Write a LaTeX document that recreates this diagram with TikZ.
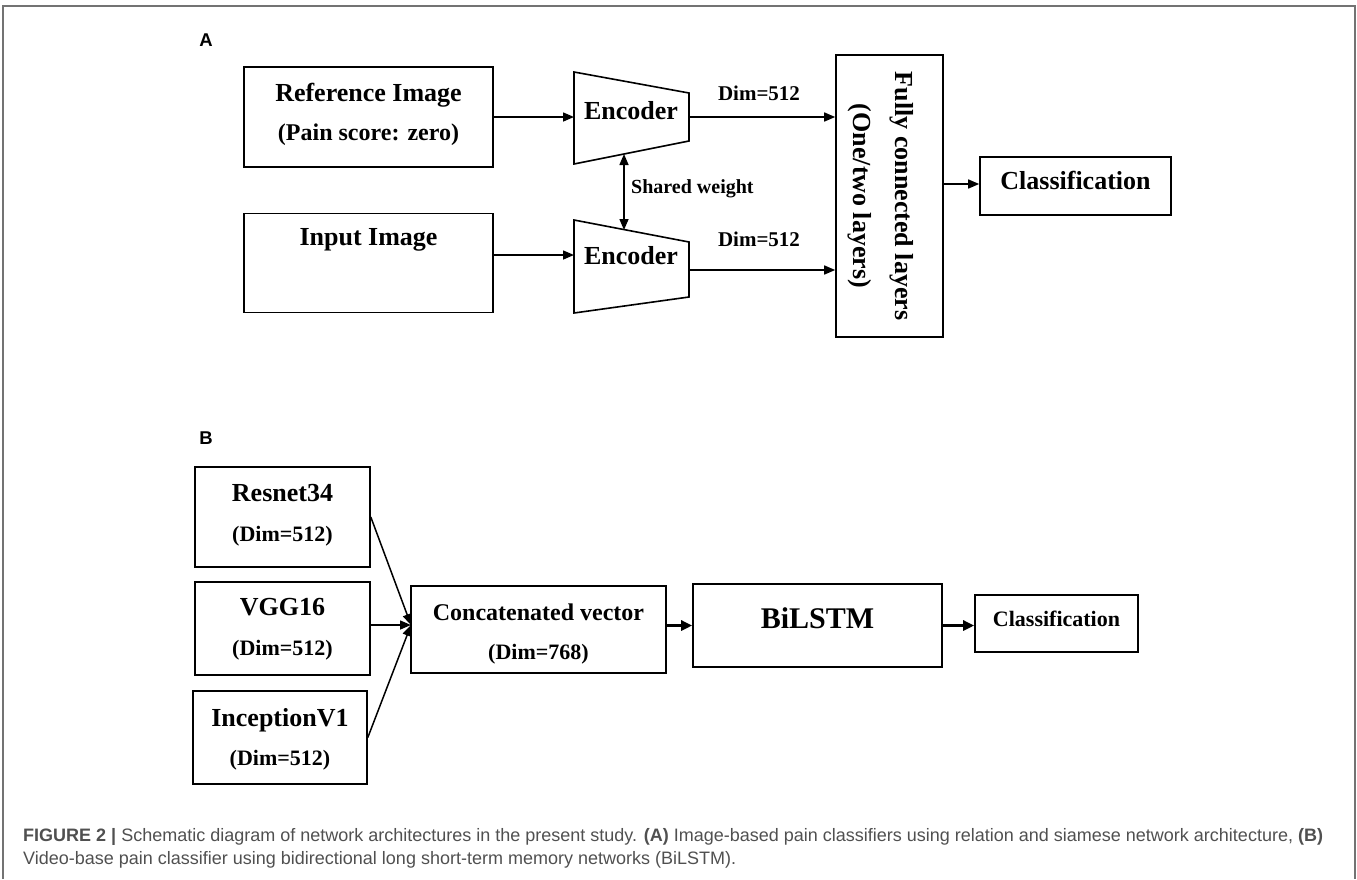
\documentclass[tikz,border=0pt]{standalone}
\usepackage{fontspec}
\setmainfont{Liberation Serif}
\newfontfamily\capfont{Liberation Sans}
\usetikzlibrary{arrows.meta,calc}
\definecolor{capgray}{RGB}{80,80,80}
\definecolor{framegray}{RGB}{115,115,115}
\newcommand\fsz[2]{\fontsize{#1}{#2}\selectfont\bfseries}
\tikzset{
  box/.style={draw,line width=1.6pt,inner sep=0pt},
  arr/.style={line width=1.5pt,-{Triangle[length=11pt,width=9pt]}},
  thickarr/.style={line width=2.6pt,-{Triangle[length=11pt,width=10pt]}},
  t26/.style={inner sep=0pt,anchor=mid,font=\fsz{26}{30}},
  t24/.style={inner sep=0pt,anchor=mid,font=\fsz{24}{28}},
  t22/.style={inner sep=0pt,anchor=mid,font=\fsz{22}{26}},
  t21/.style={inner sep=0pt,anchor=mid,font=\fsz{21}{25}},
  t20/.style={inner sep=0pt,anchor=mid,font=\fsz{20}{24}},
  t30/.style={inner sep=0pt,anchor=mid,font=\fsz{30}{34}},
  lab/.style={inner sep=0pt,font=\capfont\bfseries\fontsize{18.5}{22}\selectfont},
  captxt/.style={inner sep=0pt,text=capgray,font=\capfont\fontsize{18}{22}\selectfont},
  enc/.style={draw,line width=1.6pt,line join=miter},
}
\begin{document}
\begin{tikzpicture}[x=1pt,y=-1pt]
\useasboundingbox (0,0) rectangle (1357,879);
\draw[framegray,line width=2pt] (3,879) -- (3,6) -- (1355,6) -- (1355,879);

% ---------- Panel A ----------
\node[lab] (labA) at (206,40) {A};

\node[box,minimum width=249pt,minimum height=100pt] (ref) at (368.5,117) {};
\node[t26] (refT) at (368.5,99) {Reference Image};
\node[t24] (refS) at (368.5,138) {(Pain score: zero)};

\node[box,minimum width=249pt,minimum height=99pt] (inp) at (368.5,263) {};
\node[t26] (inpT) at (368.5,243) {Input Image};

% encoder 1
\coordinate (e1a) at (574,72);
\coordinate (e1b) at (689,93);
\coordinate (e1c) at (689,141);
\coordinate (e1d) at (574,164);
\draw[enc] (e1a) -- (e1b) -- (e1c) -- (e1d) -- cycle;
\node[t26] (enc1) at (631,117) {Encoder};
\coordinate (e1w) at (574,117);
\coordinate (e1e) at (689,117);
\coordinate (e1s) at (624,154);

% encoder 2
\coordinate (e2a) at (574,220);
\coordinate (e2b) at (689,242);
\coordinate (e2c) at (689,297);
\coordinate (e2d) at (574,313);
\draw[enc] (e2a) -- (e2b) -- (e2c) -- (e2d) -- cycle;
\node[t26] (enc2) at (631,262) {Encoder};
\coordinate (e2w) at (574,255);
\coordinate (e2e) at (689,270);
\coordinate (e2n) at (624,230);

\node[box,minimum width=107pt,minimum height=282pt] (fc) at (889.5,196) {};
\node[inner sep=0pt,rotate=-90,align=center,font=\fsz{26}{42}] (fcT) at (881,196)
  {Fully connected layers\\(One/two layers)};

\node[box,minimum width=191pt,minimum height=58pt] (clsA) at (1075.5,186) {};
\node[t26] (clsAT) at (1075.5,187) {Classification};

\draw[arr] (ref.east |- e1w) -- (e1w);
\draw[arr] (inp.east |- e2w) -- (e2w);
\draw[arr] (e1e) -- (fc.west |- e1e);
\draw[arr] (e2e) -- (fc.west |- e2e);
\node[t21] (dim1) at (759,98) {Dim=512};
\node[t21] (dim2) at (759,244) {Dim=512};
\draw[line width=1.5pt,{Triangle[length=11pt,width=9pt]}-{Triangle[length=11pt,width=9pt]}] (e1s) -- (e2n);
\node[t20,anchor=west] (shw) at (631,189) {Shared weight};
\draw[arr] (fc.east |- 0,184) -- (clsA.west |- 0,184);

% ---------- Panel B ----------
\node[lab] (labB) at (206,438) {B};

\node[box,minimum width=175pt,minimum height=100pt] (res) at (282.5,517) {};
\node[t26] (resT) at (282.5,499) {Resnet34};
\node[t22] (resS) at (282.5,539) {(Dim=512)};

\node[box,minimum width=175pt,minimum height=93pt] (vgg) at (282.5,628.5) {};
\node[t26] (vggT) at (282.5,613) {VGG16};
\node[t22] (vggS) at (282.5,653) {(Dim=512)};

\node[box,minimum width=174pt,minimum height=93pt] (inc) at (280,737.5) {};
\node[t26] (incT) at (280,724) {InceptionV1};
\node[t22] (incS) at (280,763) {(Dim=512)};

\node[box,minimum width=255pt,minimum height=87pt] (cat) at (538.5,629.5) {};
\node[t24] (catT) at (538.5,618) {Concatenated vector};
\node[t22] (catS) at (538.5,657) {(Dim=768)};

\node[box,minimum width=249pt,minimum height=83pt] (bil) at (817.5,625.5) {};
\node[t30] (bilT) at (817.5,626) {BiLSTM};

\node[box,minimum width=163pt,minimum height=57pt] (clsB) at (1056.5,623.5) {};
\node[t22] (clsBT) at (1056.5,624) {Classification};

\coordinate (cin) at (411,625);
\draw[arr] (res.east) -- (cin);
\draw[arr] (vgg.east |- cin) -- (cin);
\draw[arr] (inc.east) -- (cin);
\draw[thickarr] (cat.east |- bil.west) -- (bil.west);
\draw[thickarr] (bil.east) -- (clsB.west |- bil.east);

% ---------- Caption ----------
\node[captxt,anchor=base west] (cap1) at (23,841)
  {{\bfseries FIGURE 2 |} Schematic diagram of network architectures in the present study. {\bfseries (A)} Image-based pain classifiers using relation and siamese network architecture, {\bfseries (B)}};
\node[captxt,anchor=base west] (cap2) at (23,864)
  {Video-base pain classifier using bidirectional long short-term memory networks (BiLSTM).};
\end{tikzpicture}
\end{document}
